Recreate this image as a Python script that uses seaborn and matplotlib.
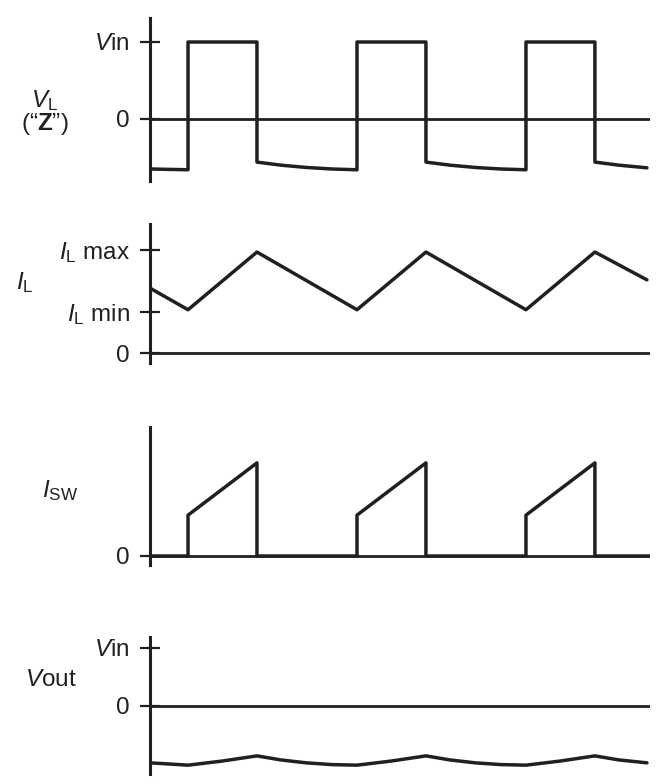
import numpy as np
import pandas as pd
import matplotlib.pyplot as plt
import seaborn as sns

sns.set_style("white")
plt.rcParams['font.family'] = ['Liberation Sans', 'DejaVu Sans']
plt.rcParams['mathtext.fontset'] = 'custom'
plt.rcParams['mathtext.rm'] = 'Liberation Sans'
plt.rcParams['mathtext.it'] = 'Liberation Sans:italic'
plt.rcParams['mathtext.bf'] = 'Liberation Sans:bold'

INK = '#231f20'
FS = 17.5

# time in switching periods (rising edge of switch at t = 0, 1, 2)
t_start, t_end = -0.225, 2.734

# V_L (inductor voltage), Vin = 1
t_vl = [-0.225, 0.0, 0.0, 0.408, 0.408, 0.55, 0.7, 0.85, 1.0,
        1.0, 1.408, 1.408, 1.55, 1.7, 1.85, 2.0,
        2.0, 2.408, 2.408, 2.55, 2.716]
v_vl = [-0.66, -0.67, 1.0, 1.0, -0.57, -0.61, -0.64, -0.66, -0.67,
        1.0, 1.0, -0.57, -0.61, -0.64, -0.66, -0.67,
        1.0, 1.0, -0.57, -0.61, -0.645]

# I_L (inductor current), I_L max = 1
t_il = [-0.225, 0.0, 0.408, 1.0, 1.408, 2.0, 2.408, 2.716]
v_il = [0.63, 0.42, 0.98, 0.42, 0.98, 0.42, 0.98, 0.71]
il_ticks = [0, 0.4, 1.0]

# I_SW (switch current)
t_sw = [-0.225, 0.0, 0.0, 0.408, 0.408, 1.0, 1.0, 1.408, 1.408,
        2.0, 2.0, 2.408, 2.408, 2.734]
v_sw = [0, 0, 0.43, 0.98, 0, 0, 0.43, 0.98, 0, 0, 0.43, 0.98, 0, 0]

# V_out, Vin = 1
t_vo = [-0.225, 0.0, 0.2, 0.408, 0.55, 0.7, 0.85, 1.0,
        1.2, 1.408, 1.55, 1.7, 1.85, 2.0, 2.2, 2.408, 2.55, 2.716]
v_vo = [-0.98, -1.02, -0.95, -0.86, -0.93, -0.98, -1.01, -1.02,
        -0.95, -0.86, -0.93, -0.98, -1.01, -1.02, -0.95, -0.86, -0.93, -0.98]

W, H = 661, 784
fig = plt.figure(figsize=(W / 100, H / 100), dpi=100)


def make_axes(top_px, bot_px, zero_px, px_per_unit):
    ax = fig.add_axes([150 / W, (H - bot_px) / H, 500 / W, (bot_px - top_px) / H])
    ax.set_xlim(t_start, t_end)
    ax.set_ylim((zero_px - bot_px) / px_per_unit, (zero_px - top_px) / px_per_unit)
    for s in ['top', 'right', 'bottom']:
        ax.spines[s].set_visible(False)
    ax.spines['left'].set_color(INK)
    ax.spines['left'].set_linewidth(2.2)
    ax.set_xticks([])
    ax.tick_params(axis='y', left=True, direction='inout', length=15, width=1.6,
                   color=INK, pad=7, labelsize=FS, labelcolor=INK)
    ax.axhline(0, color=INK, lw=2.0, zorder=1)
    return ax


def wave(ax, t, v):
    df = pd.DataFrame({'t': t, 'v': v})
    sns.lineplot(data=df, x='t', y='v', ax=ax, sort=False, estimator=None,
                 color=INK, lw=2.5, zorder=3)
    ax.set_xlabel('')


ax1 = make_axes(18, 181, 118.5, 76.5)
wave(ax1, t_vl, v_vl)
ax1.set_yticks([0, 1])
ax1.set_yticklabels(['0', r'$\mathit{V}\mathrm{in}$'])
ax1.set_ylabel('$\\mathit{V}_{\\mathrm{L}}$\n(“$\\mathbf{Z}$”)', rotation=0,
               fontsize=FS, color=INK, ha='center', va='center', linespacing=0.85)
ax1.yaxis.set_label_coords(-0.21, 0.42)

ax2 = make_axes(224, 363, 353, 103)
wave(ax2, t_il, v_il)
ax2.set_yticks(il_ticks)
ax2.set_yticklabels(['0', r'$\mathit{I}_{\mathrm{L}}\ \mathrm{min}$',
                     r'$\mathit{I}_{\mathrm{L}}\ \mathrm{max}$'])
ax2.set_ylabel(r'$\mathit{I}_{\mathrm{L}}$', rotation=0, fontsize=FS,
               color=INK, ha='center', va='center')
ax2.yaxis.set_label_coords(-0.25, 0.58)

ax3 = make_axes(427, 565, 556, 95)
wave(ax3, t_sw, v_sw)
ax3.set_yticks([0])
ax3.set_yticklabels(['0'])
ax3.set_ylabel(r'$\mathit{I}_{\mathrm{SW}}$', rotation=0, fontsize=FS,
               color=INK, ha='center', va='center')
ax3.yaxis.set_label_coords(-0.18, 0.54)

ax4 = make_axes(637, 774, 706, 58)
wave(ax4, t_vo, v_vo)
ax4.set_yticks([0, 1])
ax4.set_yticklabels(['0', r'$\mathit{V}\mathrm{in}$'])
ax4.set_ylabel(r'$\mathit{V}\mathrm{out}$', rotation=0, fontsize=FS,
               color=INK, ha='center', va='center')
ax4.yaxis.set_label_coords(-0.198, 0.686)

fig.savefig('out.png', dpi=100)
